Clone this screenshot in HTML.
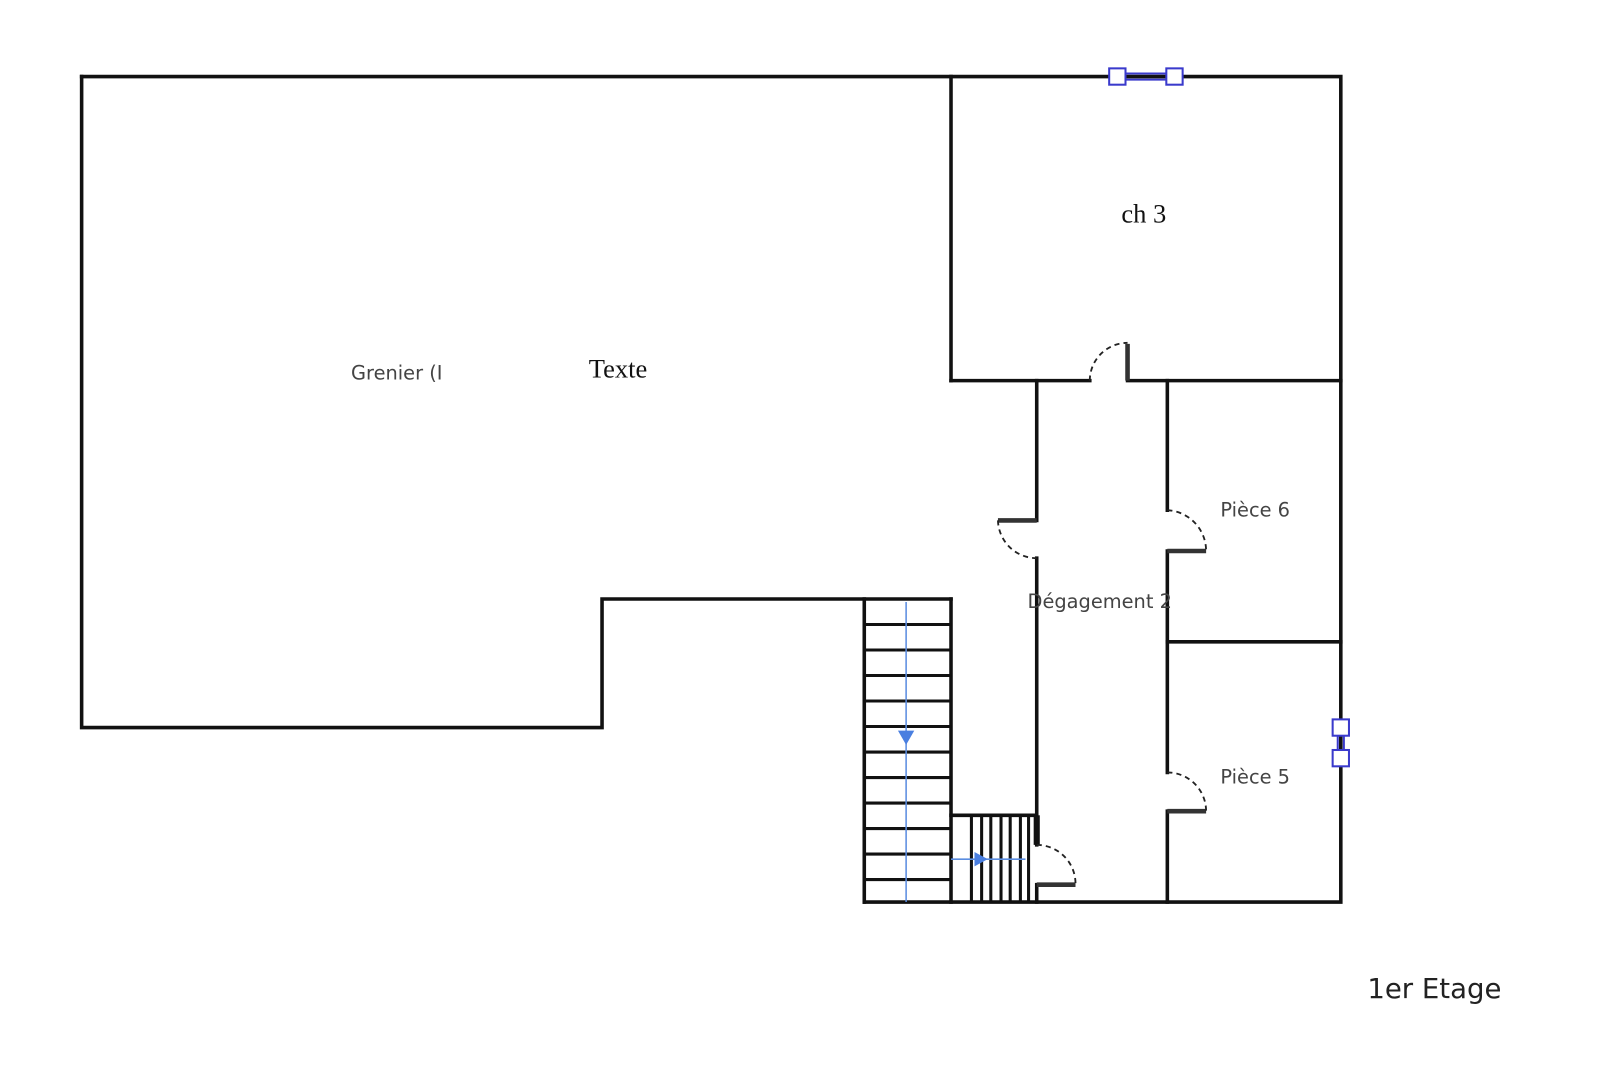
<!DOCTYPE html>
<html><head><meta charset="utf-8"><style>
html,body{margin:0;padding:0;background:#fff;}
svg{display:block}
</style></head><body>
<svg width="1600" height="1068" viewBox="0 0 1600 1068" xmlns="http://www.w3.org/2000/svg">
<g transform="scale(1.0204)">
<g stroke="#111" stroke-width="3.5" fill="none" stroke-linecap="square">
<polyline points="80,75 1314,75 1314,884 847,884"/>
<polyline points="80,75 80,713 590,713 590,587 932,587"/>
<line x1="932" y1="75" x2="932" y2="373"/>
<line x1="932" y1="373" x2="1068" y2="373"/>
<line x1="1105" y1="373" x2="1314" y2="373"/>
<line x1="1016" y1="373" x2="1016" y2="510"/>
<line x1="1016" y1="547" x2="1016" y2="828"/>
<line x1="1016" y1="867" x2="1016" y2="884"/>
<line x1="1144" y1="373" x2="1144" y2="500"/>
<line x1="1144" y1="540" x2="1144" y2="757"/>
<line x1="1144" y1="795" x2="1144" y2="884"/>
<line x1="1144" y1="629" x2="1314" y2="629"/>
<line x1="847" y1="587" x2="847" y2="884"/>
<line x1="932" y1="587" x2="932" y2="884"/>
<line x1="932" y1="799" x2="1016" y2="799"/>
</g>
<g stroke="#111" stroke-width="3">
<line x1="847" y1="612" x2="932" y2="612"/><line x1="847" y1="637" x2="932" y2="637"/>
<line x1="847" y1="662" x2="932" y2="662"/><line x1="847" y1="687" x2="932" y2="687"/>
<line x1="847" y1="712" x2="932" y2="712"/><line x1="847" y1="737" x2="932" y2="737"/>
<line x1="847" y1="762" x2="932" y2="762"/><line x1="847" y1="787" x2="932" y2="787"/>
<line x1="847" y1="812" x2="932" y2="812"/><line x1="847" y1="837" x2="932" y2="837"/>
<line x1="847" y1="862" x2="932" y2="862"/>
<line x1="952" y1="799" x2="952" y2="884"/><line x1="962" y1="799" x2="962" y2="884"/>
<line x1="971" y1="799" x2="971" y2="884"/><line x1="981" y1="799" x2="981" y2="884"/>
<line x1="990" y1="799" x2="990" y2="884"/><line x1="1000" y1="799" x2="1000" y2="884"/>
<line x1="1008" y1="799" x2="1008" y2="884"/>
</g>
<line x1="1016" y1="799" x2="1016" y2="828" stroke="#111" stroke-width="6"/>
<line x1="888" y1="590" x2="888" y2="884" stroke="#5b8de0" stroke-width="1.5"/>
<polygon points="880,716 896,716 888,730" fill="#4a7fe0"/>
<line x1="932" y1="842" x2="1005" y2="842" stroke="#5b8de0" stroke-width="1.5"/>
<polygon points="955,835 955,849 968,842" fill="#4a7fe0"/>
<g stroke="#333" stroke-width="4.5">
<line x1="1105" y1="337" x2="1105" y2="373"/>
<line x1="978" y1="510" x2="1016" y2="510"/>
<line x1="1144" y1="540" x2="1182" y2="540"/>
<line x1="1144" y1="795" x2="1182" y2="795"/>
<line x1="1016" y1="867" x2="1054" y2="867"/>
</g>
<g stroke="#222" stroke-width="1.8" fill="none" stroke-dasharray="5,4">
<path d="M1068,373 A37,37 0 0 1 1105,336"/>
<path d="M978,510 A38,38 0 0 0 1016,547"/>
<path d="M1144,500 A40,40 0 0 1 1182,540"/>
<path d="M1144,757 A38,38 0 0 1 1182,795"/>
<path d="M1016,828 A38,38 0 0 1 1054,867"/>
</g>
<g stroke="#3a3acc" stroke-width="2" fill="#fff">
<line x1="1102" y1="72" x2="1144" y2="72"/><line x1="1102" y1="78" x2="1144" y2="78"/>
<rect x="1087" y="67" width="16" height="16"/><rect x="1143" y="67" width="16" height="16"/>
<line x1="1311" y1="720" x2="1311" y2="736"/><line x1="1317" y1="720" x2="1317" y2="736"/>
<rect x="1306" y="705" width="16" height="16"/><rect x="1306" y="735" width="16" height="16"/>
</g>
<g font-family="'DejaVu Sans','Liberation Sans',sans-serif" fill="#444" font-size="19">
<text x="344" y="372">Grenier (I</text>
<text x="1007" y="596">Dégagement 2</text>
<text x="1196" y="506">Pièce 6</text>
<text x="1196" y="768">Pièce 5</text>
</g>
<g font-family="'Liberation Serif',serif" fill="#111" font-size="26">
<text x="577" y="370">Texte</text>
<text x="1099" y="218">ch 3</text>
</g>
<text x="1340" y="978" font-family="'DejaVu Sans','Liberation Sans',sans-serif" font-size="27" fill="#222">1er Etage</text>
</g>
</svg>
</body></html>
